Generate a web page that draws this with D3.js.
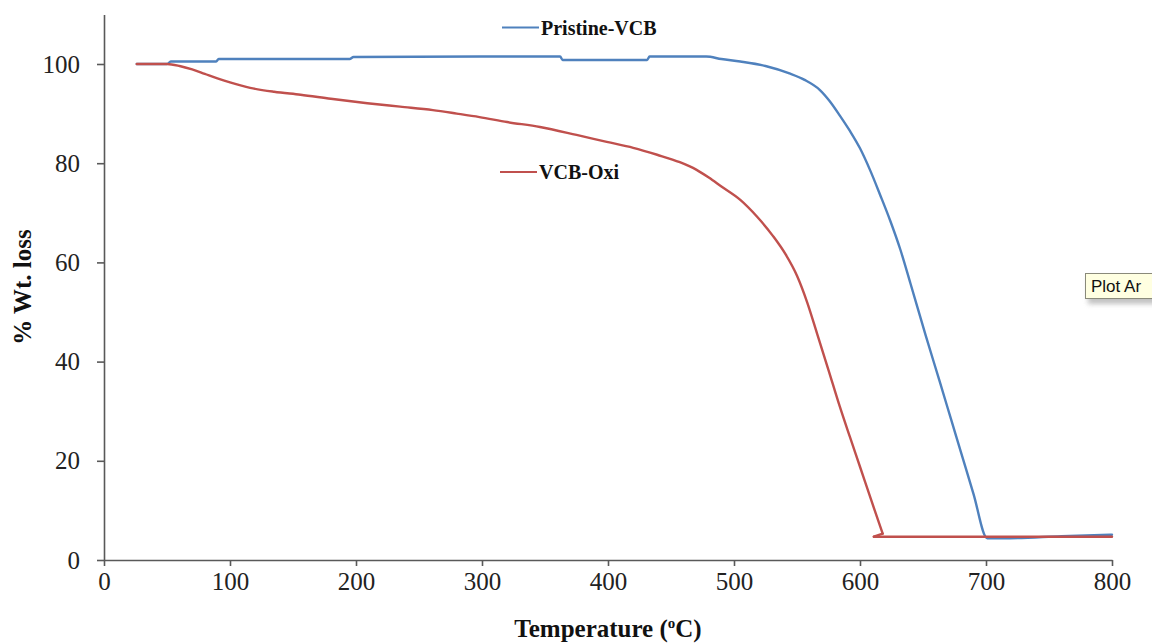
<!DOCTYPE html>
<html>
<head>
<meta charset="utf-8">
<script src="https://cdn.jsdelivr.net/npm/d3@7"></script>
<style>
  html, body { margin: 0; padding: 0; background: #fff; }
  svg { display: block; }
</style>
</head>
<body>
<svg id="chart" width="1152" height="643"></svg>
<script>
// ---- Data ----
const pristineTemp = [26, 50, 53, 89, 91, 195, 198, 298, 362, 364, 431, 433, 478, 490, 505, 525, 544, 556, 568, 576, 584, 592, 600, 608, 616, 624, 632, 640, 652, 663, 672, 681, 690, 701, 719, 760, 800];
const pristineWt   = [100, 100, 100.5, 100.5, 101, 101, 101.4, 101.5, 101.5, 100.8, 100.8, 101.5, 101.5, 101.0, 100.5, 99.6, 98.1, 96.8, 94.8, 92.5, 89.6, 86.5, 83.0, 78.6, 73.6, 68.4, 62.6, 55.8, 45.4, 36.2, 28.6, 21.0, 13.4, 4.4, 4.4, 4.8, 5.1];

const oxiTemp = [26, 50, 60, 70, 80, 90, 100, 116, 135, 156, 180, 209, 235, 261, 280, 298, 320, 346, 375, 399, 420, 439, 457, 470, 480, 490, 505, 518, 531, 541, 550, 558, 566, 575, 584, 592, 600, 609, 618, 611, 700, 800];
const oxiWt   = [100, 100, 99.6, 98.9, 98.0, 97.1, 96.3, 95.2, 94.4, 93.8, 93.0, 92.1, 91.4, 90.7, 90.0, 89.3, 88.3, 87.3, 85.7, 84.3, 83.1, 81.7, 80.2, 78.7, 77.1, 75.3, 72.6, 69.3, 65.3, 61.6, 57.3, 52.0, 45.6, 38.3, 30.9, 24.8, 18.8, 12.0, 5.3, 4.7, 4.7, 4.7];

const xTicks = [0, 100, 200, 300, 400, 500, 600, 700, 800];
const yTicks = [0, 20, 40, 60, 80, 100];
const seriesNames = ["Pristine-VCB", "VCB-Oxi"];
const seriesColors = ["#4F81BD", "#C0504D"];

// ---- Layout ----
const svg = d3.select("#chart");
const x = d3.scaleLinear().domain([0, 800]).range([104, 1112]);
const y = d3.scaleLinear().domain([0, 110]).range([560, 14.4]);

const axisColor = "#595959";
const tickFont = "'Liberation Serif', 'Times New Roman', serif";

// Y axis
const yAxis = svg.append("g").attr("transform", `translate(${x(0)},0)`)
  .call(d3.axisLeft(y).tickValues(yTicks).tickSize(7).tickPadding(17).tickSizeOuter(0));
yAxis.select(".domain").attr("stroke", axisColor).attr("stroke-width", 1.6);
yAxis.selectAll(".tick line").attr("stroke", axisColor).attr("stroke-width", 1.6);
yAxis.selectAll(".tick text").attr("font-family", tickFont).attr("font-size", 25).attr("fill", "#222");

// X axis
const xAxis = svg.append("g").attr("transform", `translate(0,${y(0)})`)
  .call(d3.axisBottom(x).tickValues(xTicks).tickSize(6).tickPadding(6).tickSizeOuter(0));
xAxis.select(".domain").attr("stroke", axisColor).attr("stroke-width", 1.6);
xAxis.selectAll(".tick line").attr("stroke", axisColor).attr("stroke-width", 1.6);
xAxis.selectAll(".tick text").attr("font-family", tickFont).attr("font-size", 25).attr("fill", "#222");

// Lines: split each series into runs where temperature increases, smooth each run
const lineSmooth = d3.line().x(d => x(d[0])).y(d => y(d[1])).curve(d3.curveMonotoneX);
const lineStraight = d3.line().x(d => x(d[0])).y(d => y(d[1]));
function runs(pts) {
  const out = [[pts[0]]];
  for (let k = 1; k < pts.length; k++) {
    if (pts[k][0] < pts[k - 1][0]) {
      out.push([pts[k - 1], pts[k]]);   // backward step drawn straight
      out.push([pts[k]]);
    } else {
      out[out.length - 1].push(pts[k]);
    }
  }
  return out.filter(r => r.length > 1);
}
const series = [
  d3.zip(pristineTemp, pristineWt),
  d3.zip(oxiTemp, oxiWt)
];
series.forEach((pts, i) => {
  const g = svg.append("g");
  runs(pts).forEach(r => {
    const backward = r.length === 2 && r[1][0] < r[0][0];
    g.append("path").datum(r)
      .attr("fill", "none")
      .attr("stroke", seriesColors[i])
      .attr("stroke-width", 2.4)
      .attr("stroke-linejoin", "round")
      .attr("stroke-linecap", "round")
      .attr("d", backward ? lineStraight : lineSmooth);
  });
});

// Legend labels (placed inside the plot as in the reference)
const legendPos = [{lx: 502, ly: 27.5}, {lx: 500, ly: 172}];
legendPos.forEach((p, i) => {
  svg.append("line").attr("x1", p.lx).attr("x2", p.lx + 37).attr("y1", p.ly).attr("y2", p.ly)
    .attr("stroke", seriesColors[i]).attr("stroke-width", 2.2);
  svg.append("text").attr("x", p.lx + 39).attr("y", p.ly + 7)
    .attr("font-family", tickFont).attr("font-weight", "bold").attr("font-size", 20)
    .attr("fill", "#111").text(seriesNames[i]);
});

// Axis titles
const xTitle = svg.append("text").attr("x", x(400)).attr("y", 637).attr("text-anchor", "middle")
  .attr("font-family", tickFont).attr("font-weight", "bold").attr("font-size", 25).attr("fill", "#111");
xTitle.append("tspan").text("Temperature (");
xTitle.append("tspan").attr("font-size", 15).attr("dy", -9).text("o");
xTitle.append("tspan").attr("dy", 9).text("C)");

svg.append("text").attr("transform", "translate(31,287) rotate(-90)").attr("text-anchor", "middle")
  .attr("font-family", tickFont).attr("font-weight", "bold").attr("font-size", 25).attr("fill", "#111")
  .text("% Wt. loss");

// Tooltip remnant "Plot Ar"
const defs = svg.append("defs");
const f = defs.append("filter").attr("id", "sh").attr("x", "-20%").attr("y", "-20%").attr("width", "150%").attr("height", "180%");
f.append("feGaussianBlur").attr("stdDeviation", 2.5);
svg.append("rect").attr("x", 1088).attr("y", 278).attr("width", 80).attr("height", 26)
  .attr("fill", "#999").attr("opacity", 0.6).attr("filter", "url(#sh)");
svg.append("rect").attr("x", 1085.5).attr("y", 273.5).attr("width", 80).attr("height", 25)
  .attr("fill", "#FFFFE1").attr("stroke", "#8a8a7a").attr("stroke-width", 1);
svg.append("text").attr("x", 1091).attr("y", 292)
  .attr("font-family", "'Liberation Sans', Arial, sans-serif").attr("font-size", 17).attr("fill", "#111")
  .text("Plot Ar");
</script>
</body>
</html>
